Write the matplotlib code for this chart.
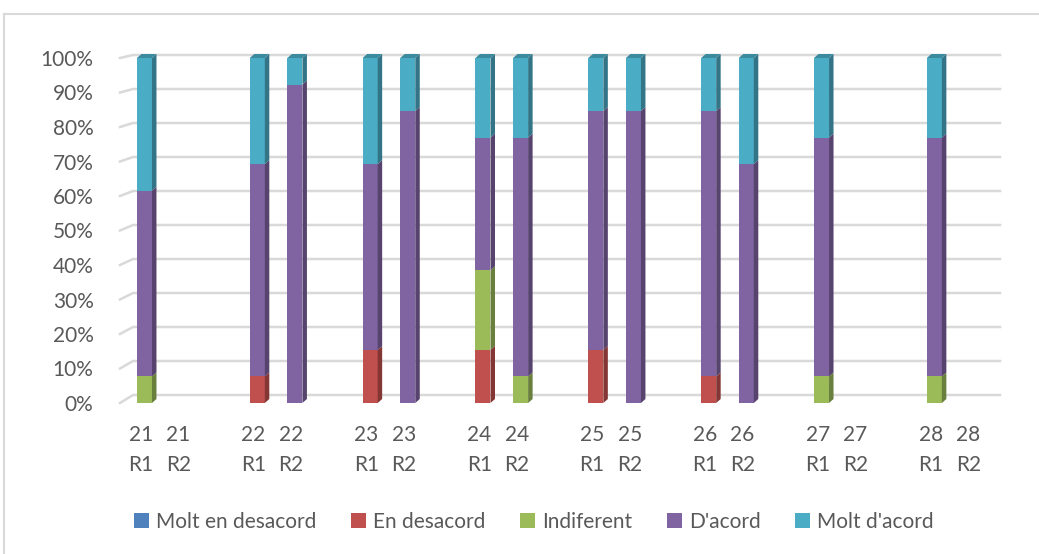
import numpy as np
import matplotlib.pyplot as plt
from matplotlib.patches import Polygon
from matplotlib.lines import Line2D
from matplotlib.colors import to_rgb

plt.rcParams['font.family'] = ['Lato', 'DejaVu Sans']

# answers out of 13 respondents per question / round
questions = ['21', '22', '23', '24', '25', '26', '27', '28']
rounds = ['R1', 'R2']
series = ['Molt en desacord', 'En desacord', 'Indiferent', "D'acord", "Molt d'acord"]
colors = ['#4F81BD', '#C0504D', '#9BBB59', '#8064A2', '#4BACC6']

n_resp = 13
molt_desacord = [0, 0, 0, 0, 0, 0, 0, 0, 0, 0, 0, 0, 0, 0, 0, 0]
en_desacord   = [0, 0, 1, 0, 2, 0, 2, 0, 2, 0, 1, 0, 0, 0, 0, 0]
indiferent    = [1, 0, 0, 0, 0, 0, 3, 1, 0, 0, 0, 0, 1, 0, 1, 0]
d_acord       = [7, 0, 8, 12, 7, 11, 5, 9, 9, 11, 10, 9, 9, 0, 9, 0]
molt_acord    = [5, 0, 4, 1, 4, 2, 3, 3, 2, 2, 2, 4, 3, 0, 3, 0]

data = np.array([molt_desacord, en_desacord, indiferent, d_acord, molt_acord]) / n_resp
labels = [f'{q}\n{r}' for q in questions for r in rounds]
# R1, R2 and an empty slot for each question
xpos = np.array([3 * i + j for i in range(len(questions)) for j in range(2)])

fig = plt.figure(figsize=(10.39, 5.54), dpi=100)
ax = fig.add_axes([120 / 1039, 151 / 554, 867 / 1039, 345 / 554])
ax.set_xlim(-0.65, 22.4)
ax.set_ylim(0, 1)
for s in ax.spines.values():
    s.set_visible(False)

# pixel -> data unit helpers for the depth effect
px_x = (22.4 + 0.65) / 867
px_y = 1 / 345


def darker(c, f):
    return tuple(v * f for v in to_rgb(c))


# back wall gridlines with a slanted floor stub
yt = np.arange(0, 1.01, 0.1)
for t in yt:
    dy = (8 - 5 * t) * px_y
    x0, x1 = -0.65, -0.65 + 13 * px_x
    ax.add_line(Line2D([x0, x1, 22.4 + 13 * px_x], [t, t + dy, t + dy],
                       color='#d9d9d9', lw=1.8, clip_on=False, zorder=0))

w = 0.4
dx, dz = 4.5 * px_x, 4 * px_y
bottoms = np.zeros(len(xpos))
for k, (name, col) in enumerate(zip(series, colors)):
    vals = data[k]
    ax.bar(xpos, vals, w, bottom=bottoms, color=col, label=name, zorder=2)
    for x, b, v in zip(xpos, bottoms, vals):
        if v <= 0:
            continue
        r = x + w / 2
        side = Polygon([(r, b), (r + dx, b + dz), (r + dx, b + v + dz), (r, b + v)],
                       closed=True, color=darker(col, 0.68), lw=0, zorder=2, clip_on=False)
        ax.add_patch(side)
        if abs(b + v - 1) < 1e-6:
            l = x - w / 2
            top = Polygon([(l, 1), (r, 1), (r + dx, 1 + dz), (l + dx, 1 + dz)],
                          closed=True, color=darker(col, 0.8), lw=0, zorder=2, clip_on=False)
            ax.add_patch(top)
    bottoms = bottoms + vals

ax.set_yticks(yt)
ax.set_yticklabels([f'{int(round(t * 100))}%' for t in yt])
ax.set_xticks(xpos - 0.1)
ax.set_xticklabels(labels, linespacing=1.62)
ax.tick_params(length=0, labelsize=15, labelcolor='#595959')
ax.tick_params(axis='y', pad=19)
ax.tick_params(axis='x', pad=16)

leg = fig.legend(loc='center', bbox_to_anchor=(534 / 1039, 1 - 522 / 554), ncol=5,
                 frameon=False, fontsize=15, handlelength=0.72, handleheight=0.72,
                 handletextpad=0.35, columnspacing=1.65)
for txt in leg.get_texts():
    txt.set_color('#595959')

# chart area border
fig.add_artist(Line2D([4 / 1039, 4 / 1039], [0, 1 - 14 / 554], color='#d9d9d9', lw=1.5))
fig.add_artist(Line2D([4 / 1039, 1], [1 - 14 / 554, 1 - 14 / 554], color='#d9d9d9', lw=1.5))

fig.savefig('out.png', dpi=100)
